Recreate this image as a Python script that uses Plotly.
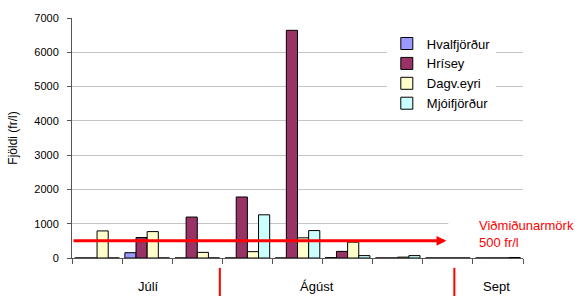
import plotly.graph_objects as go

# ---- data ----
positions = [0, 1, 2, 3, 4, 5, 6, 7, 8]          # sampling occasions (9 slots)
series_names = ["Hvalfjörður", "Hrísey", "Dagv.eyri", "Mjóifjörður"]
hvalfjordur = [0, 155, 0, 0, 0, 10, 0, 0, 0]
hrisey = [0, 597, 1194, 1780, 6640, 193, 0, 0, 0]
dagveyri = [790, 770, 164, 185, 588, 462, 25, 0, 0]
mjoifjordur = [0, 0, 0, 1260, 800, 70, 70, 0, 15]
month_labels = ["Júlí", "Ágúst", "Sept"]
threshold = 500
threshold_label = "Viðmiðunarmörk<br>500 fr/l"
y_ticks = [0, 1000, 2000, 3000, 4000, 5000, 6000, 7000]

# ---- styling / positions ----
colors = ["#9999FF", "#993366", "#FFFFCC", "#CCFFFF"]
month_x = [1.02, 4.39, 7.97]
separator_x = [2.45, 7.13]
FONT = "Arial, Liberation Sans, sans-serif"

fig = go.Figure()
for name, vals, col in zip(series_names, [hvalfjordur, hrisey, dagveyri, mjoifjordur], colors):
    fig.add_trace(go.Bar(
        x=positions, y=vals, name=name,
        marker=dict(color=col, line=dict(color="#000000", width=1)),
    ))

fig.update_layout(
    width=575, height=296,
    margin=dict(l=69, r=52, t=15, b=38),
    paper_bgcolor="white", plot_bgcolor="white",
    barmode="group", bargap=0.11, bargroupgap=0,
    font=dict(family=FONT, size=11, color="#000000"),
    showlegend=True,
    legend=dict(
        x=0.698, y=0.956, xanchor="left", yanchor="top",
        bgcolor="white", borderwidth=0,
        font=dict(family=FONT, size=13, color="#000000"),
        tracegroupgap=0,
    ),
)

fig.update_xaxes(
    range=[-0.5, 8.5],
    tickvals=[p - 0.5 for p in positions] + [positions[-1] + 0.5],
    ticktext=[""] * (len(positions) + 1),
    ticks="outside", ticklen=5, tickcolor="#555555",
    showline=True, linecolor="#555555", linewidth=1,
    showgrid=False, zeroline=False,
)
fig.update_yaxes(
    range=[0, 7000],
    tickvals=y_ticks,
    ticks="outside", ticklen=4, tickcolor="#555555",
    ticklabelstandoff=6,
    tickfont=dict(family=FONT, size=11, color="#000000"),
    showline=True, linecolor="#555555", linewidth=1,
    showgrid=True, gridcolor="#C4C4C4", gridwidth=1,
    zeroline=False,
    title=dict(text="Fjöldi (fr/l)", font=dict(family=FONT, size=12, color="#000000"), standoff=14),
)

# threshold arrow
fig.add_annotation(
    x=6.97, y=threshold, xref="x", yref="y",
    ax=-0.5, ay=threshold, axref="x", ayref="y",
    text="", showarrow=True,
    arrowhead=2, arrowsize=0.65, arrowwidth=3, arrowcolor="#FF0000",
)
# white box behind label (hides gridline)
fig.add_shape(type="rect", xref="x", yref="y", x0=7.01, x1=8.5, y0=850, y1=1150,
              fillcolor="white", line=dict(width=0), layer="between")
fig.add_annotation(
    x=0.898, y=698, xref="paper", yref="y",
    xanchor="left", yanchor="middle", align="left",
    text=threshold_label, showarrow=False,
    font=dict(family=FONT, size=13, color="#FF0000"),
)

# month labels
for lbl, mx in zip(month_labels, month_x):
    fig.add_annotation(
        x=mx, y=-0.119, xref="x", yref="paper",
        xanchor="center", yanchor="middle",
        text=lbl, showarrow=False,
        font=dict(family=FONT, size=13, color="#000000"),
    )
# red separators
for sx in separator_x:
    fig.add_shape(type="line", xref="x", yref="paper",
                  x0=sx, x1=sx, y0=-0.041, y1=-0.16,
                  line=dict(color="#FF0000", width=2))

fig.write_html("out.html", config={"displayModeBar": False},
               post_script="document.body.style.margin='0px';")
